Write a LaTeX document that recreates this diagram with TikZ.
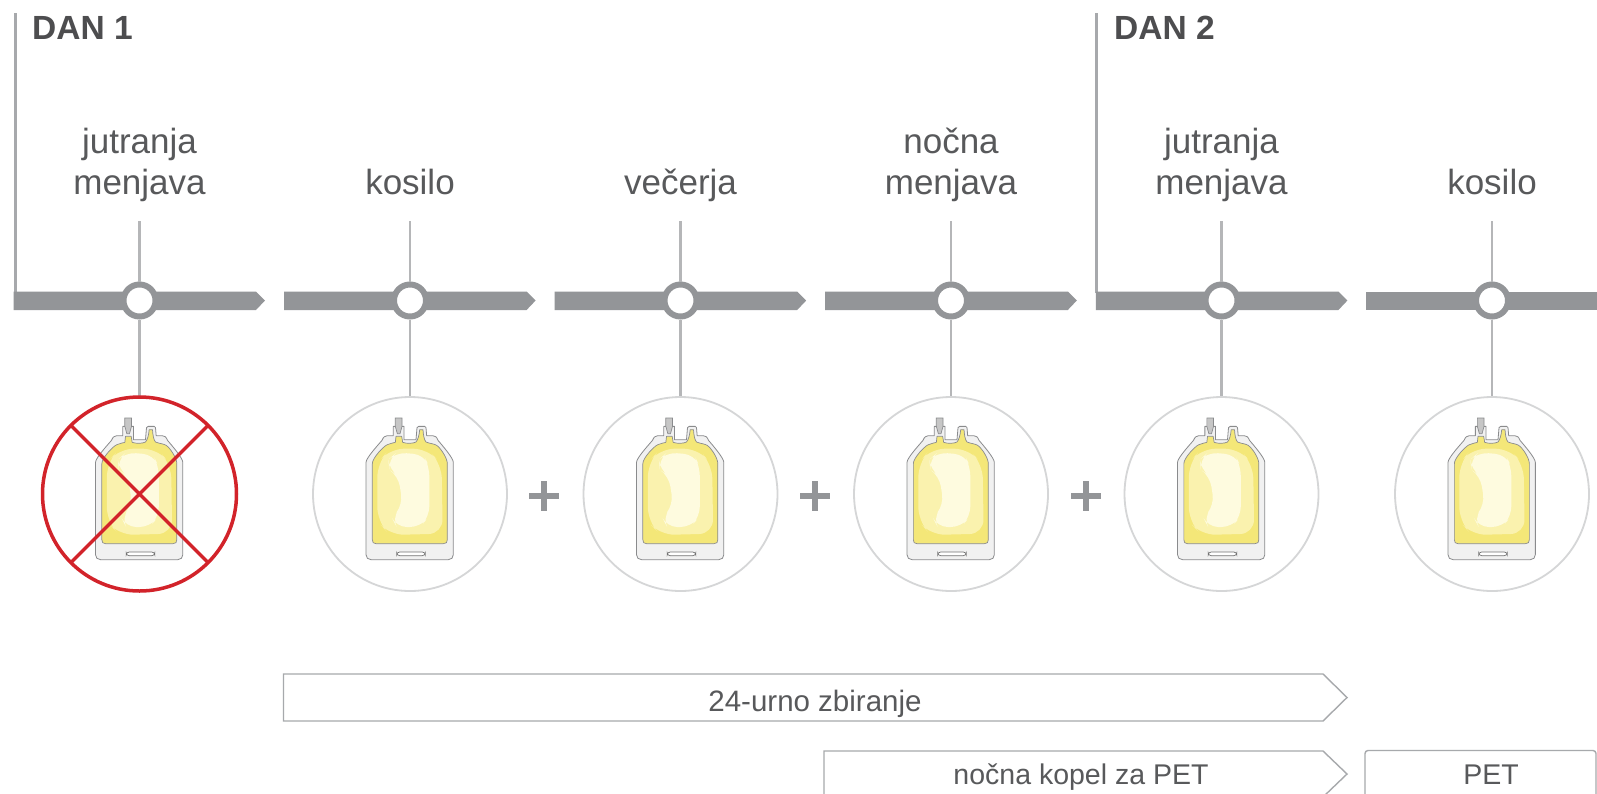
\documentclass[tikz,border=0pt]{standalone}
\usepackage{fontspec}
\setmainfont{Liberation Sans}
\definecolor{barc}{HTML}{939598}
\definecolor{linec}{HTML}{B5B6B8}
\definecolor{ringc}{HTML}{D5D6D7}
\definecolor{textc}{HTML}{58595B}
\definecolor{boldc}{HTML}{4D4D4F}
\definecolor{redc}{HTML}{D2232A}
\definecolor{boxc}{HTML}{A7A9AC}
\definecolor{bagout}{HTML}{F1F1F1}
\definecolor{bagline}{HTML}{8A8B8D}
\definecolor{yel}{HTML}{F4E778}
\definecolor{yelm}{HTML}{FAF2AE}
\definecolor{yell}{HTML}{FEFBDF}
\tikzset{
 tick/.style={circle,draw=barc,line width=6pt,fill=white,minimum size=32pt,inner sep=0pt},
 ring/.style={circle,draw=ringc,line width=1.8pt,fill=white,minimum size=194pt,inner sep=0pt},
 redring/.style={circle,draw=redc,line width=3.5pt,minimum size=194pt,inner sep=0pt},
 lab/.style={text=textc,font=\fontsize{35}{40.3}\selectfont,align=center,anchor=base,inner sep=0pt},
 daylab/.style={text=boldc,font=\fontsize{33.5}{38}\selectfont\bfseries,anchor=base west,inner sep=0pt},
 boxlab/.style={text=textc,font=\fontsize{28.5}{34}\selectfont,anchor=base,inner sep=0pt},
 conn/.style={draw=linec,line width=2.5pt},
 boxline/.style={draw=boxc,line width=1.4pt},
 bag/.pic={
  \begin{scope}[x=0.3333pt,y=-0.3333pt,shift={(-360,-343)}]
   \draw[fill=bagout,draw=bagline,line width=.8pt,line join=round]
     (243,540) .. controls (234,540) and (228,534) .. (228,525) -- (228,248) .. controls (228,235) and (265,195) .. (276,182) .. controls (280,172) and (285,168) .. (292,168) -- (310,168) -- (310,140) -- (342,140) -- (342,180) -- (378,180) -- (381,144) .. controls (382,140) and (383,140) .. (386,140) -- (404,140) .. controls (407,140) and (408,140) .. (408,144) -- (410,168) -- (428,168) .. controls (436,168) and (440,172) .. (444,182) .. controls (455,195) and (490,235) .. (490,248) -- (490,525) .. controls (490,534) and (484,540) .. (475,540) -- cycle;
   \draw[fill=yel,draw=bagline,line width=.7pt,line join=round]
     (258,492) .. controls (250,492) and (247,488) .. (247,480) -- (247,252) .. controls (247,235) and (280,200) .. (292,195) .. controls (300,191) and (310,190) .. (316,188) -- (318,170) -- (335,170) -- (338,188) .. controls (350,192) and (368,192) .. (378,187) .. controls (384,180) and (388,165) .. (389,150) -- (399,150) .. controls (400,165) and (402,180) .. (408,187) .. controls (420,192) and (432,192) .. (440,197) .. controls (452,205) and (472,235) .. (472,252) -- (472,480) .. controls (472,488) and (469,492) .. (460,492) -- cycle;
   \fill[yelm,rounded corners=14pt] (262,250) -- (300,207) -- (412,207) -- (455,255) -- (458,462) -- (300,466) -- (262,425) -- cycle;
   \fill[yell,rounded corners=10pt] (295,240) -- (320,218) -- (400,225) -- (418,260) -- (418,410) -- (390,442) -- (320,442) -- (306,415) -- (338,375) -- (325,290) -- (298,270) -- cycle;
   \draw[fill=gray!45,draw=bagline,line width=.7pt] (316,115) -- (336,115) -- (336,140) -- (330,162) -- (322,162) -- (316,140) -- cycle;
   \draw[fill=white,draw=black!55,line width=.7pt,rounded corners=3pt] (320,517) rectangle (406,528);
  \end{scope}
 }
}
\begin{document}
\begin{tikzpicture}[x=1pt,y=-1pt]
\clip (0,0) rectangle (1597,793);
\fill[white] (0,0) rectangle (1597,793);
% day rules
\draw[conn,draw=boxc,line width=3pt] (15,13) -- (15,293);
\draw[conn,draw=boxc,line width=3pt] (1096,13) -- (1096,293);
% bars
\fill[barc] (13.5,291.5) -- (256,291.5) -- (265,300.5) -- (256,310) -- (13.5,310) -- cycle;
\fill[barc] (284,291.5) -- (526.6,291.5) -- (535.6,300.5) -- (526.6,310) -- (284,310) -- cycle;
\fill[barc] (554.6,291.5) -- (797.2,291.5) -- (806.2,300.5) -- (797.2,310) -- (554.6,310) -- cycle;
\fill[barc] (825.2,291.5) -- (1067.8,291.5) -- (1076.8,300.5) -- (1067.8,310) -- (825.2,310) -- cycle;
\fill[barc] (1095.8,291.5) -- (1338.4,291.5) -- (1347.4,300.5) -- (1338.4,310) -- (1095.8,310) -- cycle;
\fill[barc] (1366.4,291.5) -- (1597,291.5) -- (1597,310) -- (1366.4,310) -- cycle;
% columns
\foreach \n/\x/\t in {1/139.5/{jutranja\\menjava},2/410/{kosilo},3/680.5/{večerja},4/951/{nočna\\menjava},5/1221.5/{jutranja\\menjava},6/1492/{kosilo}}{
  \node[lab] (lab\n) at (\x,194) {\t};
  \coordinate (top\n) at (\x,221);
  \node[tick] (tick\n) at (\x,300.5) {};
  \node[ring] (ring\n) at (\x,494) {};
  \draw[conn] (top\n) -- (tick\n.north);
  \draw[conn] (tick\n.south) -- (ring\n.north);
  \pic at (ring\n.center) {bag};
}
% red cross
\node[redring] (no) at (139.5,494) {};
\coordinate (c1) at (71.5,426);
\coordinate (c2) at (207.5,562);
\coordinate (c3) at (207.5,426);
\coordinate (c4) at (71.5,562);
\draw[redc,line width=3.2pt] (c1) -- (c2) (c3) -- (c4);
% plus signs
\foreach \x in {544,815,1085.5}{
  \fill[barc] (\x-15,493) rectangle (\x+15,499);
  \fill[barc] (\x-3,481) rectangle (\x+3,511);
}
% day labels
\node[daylab] (d1) at (32,39.5) {DAN 1};
\node[daylab] (d2) at (1114,39.5) {DAN 2};
% lower boxes
\draw[boxline] (283.5,674) -- (1323,674) -- (1347,697.5) -- (1323,721) -- (283.5,721) -- cycle;
\node[boxlab,font=\fontsize{29.5}{34}\selectfont] (b1) at (815,711) {24-urno zbiranje};
\draw[boxline] (824,751) -- (1323,751) -- (1347,774) -- (1323,797) -- (824,797) -- cycle;
\node[boxlab] (b2) at (1081,784) {nočna kopel za PET};
\draw[boxline,rounded corners=3pt] (1365,800) -- (1365,750.5) -- (1596,750.5) -- (1596,800);
\node[boxlab] (b3) at (1491,784) {PET};
\end{tikzpicture}
\end{document}
